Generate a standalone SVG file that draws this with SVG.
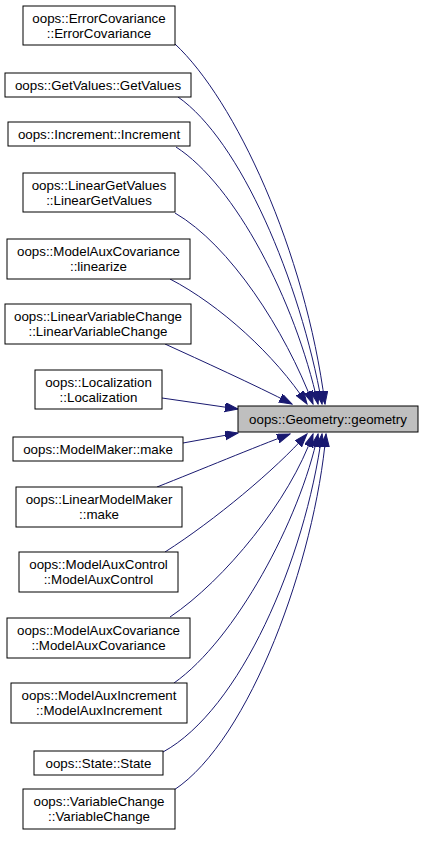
<svg xmlns="http://www.w3.org/2000/svg" width="423" height="847" viewBox="0 0 423 847">
<defs>
<style>
.n rect{fill:#ffffff;stroke:#000000;stroke-width:1}
#geometry rect{fill:#bfbfbf}
text{font-family:"Liberation Sans",Arial,sans-serif;font-size:13.33px;fill:#000000;text-anchor:middle}
.e path{fill:none;stroke:#191970;stroke-width:1;marker-end:url(#arr)}
</style>
<marker id="arr" markerUnits="userSpaceOnUse" markerWidth="14" markerHeight="10" refX="13" refY="4.5" orient="auto">
<path d="M0,0 L13,4.5 L0,9 z" fill="#191970" stroke="#191970" stroke-width="1"/>
</marker>
</defs>
<rect width="423" height="847" fill="#ffffff"/>
<g id="edges" class="e">
<path d="M175,44 C235,100 305,250 325,404"/>
<path d="M178,97 C240,140 300,280 322,404"/>
<path d="M176,147 C235,185 295,300 318,404"/>
<path d="M175,213 C230,245 285,330 313,404"/>
<path d="M170,279 C220,305 275,355 307,404"/>
<path d="M165,344 C200,360 255,385 292,404"/>
<path d="M162,398 L238,409"/>
<path d="M183,443 L238,433"/>
<path d="M157,487 C200,470 255,447 290,434"/>
<path d="M165,552 C215,520 275,470 307,434"/>
<path d="M170,617 C225,580 290,500 313,434"/>
<path d="M174,683 C235,640 300,520 318,434"/>
<path d="M163,752 C240,710 305,560 322,434"/>
<path d="M174,790 C250,740 315,560 326,434"/>
</g>
<g id="geometry" class="n"><rect x="238" y="406" width="180" height="26"/><text x="328" y="423.5">oops::Geometry::geometry</text></g>
<g id="n1" class="n"><rect x="23" y="6" width="152" height="39"/><text x="99" y="22.5">oops::ErrorCovariance</text><text x="99" y="37.5">::ErrorCovariance</text></g>
<g id="n2" class="n"><rect x="5" y="73" width="186" height="24"/><text x="98" y="89.5">oops::GetValues::GetValues</text></g>
<g id="n3" class="n"><rect x="8" y="122" width="182" height="24"/><text x="99" y="138.5">oops::Increment::Increment</text></g>
<g id="n4" class="n"><rect x="23" y="173" width="152" height="39"/><text x="99" y="189.5">oops::LinearGetValues</text><text x="99" y="204.5">::LinearGetValues</text></g>
<g id="n5" class="n"><rect x="7" y="239" width="183" height="40"/><text x="98.5" y="256">oops::ModelAuxCovariance</text><text x="98.5" y="271">::linearize</text></g>
<g id="n6" class="n"><rect x="5" y="304" width="186" height="40"/><text x="98" y="321">oops::LinearVariableChange</text><text x="98" y="336">::LinearVariableChange</text></g>
<g id="n7" class="n"><rect x="35" y="370" width="127" height="39"/><text x="98.5" y="386.5">oops::Localization</text><text x="98.5" y="401.5">::Localization</text></g>
<g id="n8" class="n"><rect x="13" y="437" width="170" height="24"/><text x="98" y="453.5">oops::ModelMaker::make</text></g>
<g id="n9" class="n"><rect x="16" y="487" width="166" height="40"/><text x="99" y="504">oops::LinearModelMaker</text><text x="99" y="519">::make</text></g>
<g id="n10" class="n"><rect x="19" y="552" width="159" height="40"/><text x="98.5" y="569">oops::ModelAuxControl</text><text x="98.5" y="584">::ModelAuxControl</text></g>
<g id="n11" class="n"><rect x="7" y="618" width="183" height="40"/><text x="98.5" y="635">oops::ModelAuxCovariance</text><text x="98.5" y="650">::ModelAuxCovariance</text></g>
<g id="n12" class="n"><rect x="11" y="683" width="176" height="40"/><text x="99" y="700">oops::ModelAuxIncrement</text><text x="99" y="715">::ModelAuxIncrement</text></g>
<g id="n13" class="n"><rect x="34" y="751" width="129" height="24"/><text x="98.5" y="767.5">oops::State::State</text></g>
<g id="n14" class="n"><rect x="23" y="789" width="152" height="40"/><text x="99" y="806">oops::VariableChange</text><text x="99" y="821">::VariableChange</text></g>
</svg>
